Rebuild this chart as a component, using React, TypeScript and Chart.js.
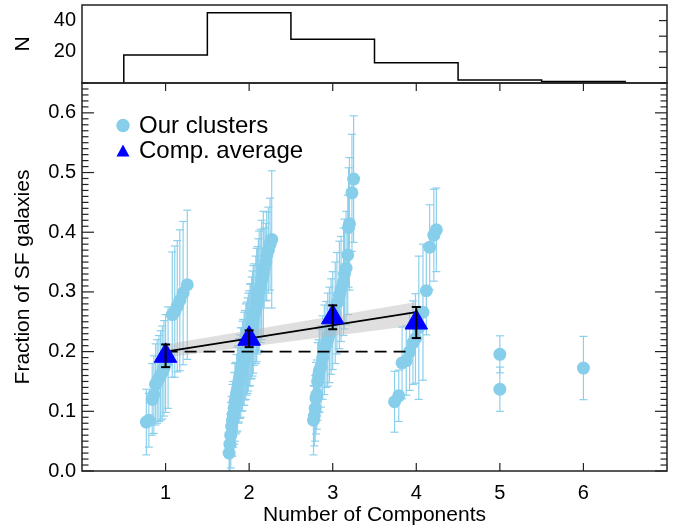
import React, { useEffect, useRef } from "react";
import { Chart, registerables } from "chart.js";

Chart.register(...registerables);

const FONT = '"Liberation Sans", Arial, Helvetica, sans-serif';
const SKY = "#87CEEB";
const BLUE = "#0000FF";

// ---------- top histogram ----------
const histCenters = [1, 2, 3, 4, 5, 6];
const histCounts = [18, 45, 28, 13, 2, 1];
const histTickLabels = [20, 40];
const histTickMarks = [10, 20, 30, 40];

// ---------- main panel axes ----------
const xTickValues = [1, 2, 3, 4, 5, 6];
const yTickValues = [0, 0.1, 0.2, 0.3, 0.4, 0.5, 0.6];

// ---------- our clusters (x = jittered component number) ----------
const x1 = [0.77, 0.8, 0.84, 0.86, 0.88, 0.9, 0.92, 0.94, 0.96, 0.98, 1.0, 1.03, 1.08, 1.11, 1.14, 1.17, 1.21, 1.26];
const y1 = [0.082, 0.085, 0.12, 0.128, 0.145, 0.15, 0.155, 0.16, 0.165, 0.172, 0.18, 0.19, 0.262, 0.267, 0.276, 0.286, 0.298, 0.312];
const e1 = [0.055, 0.045, 0.06, 0.065, 0.068, 0.07, 0.072, 0.075, 0.078, 0.08, 0.082, 0.085, 0.105, 0.11, 0.11, 0.118, 0.12, 0.125];

const x2 = [1.76, 1.77, 1.78, 1.79, 1.8, 1.81, 1.82, 1.83, 1.84, 1.85, 1.86, 1.87, 1.88, 1.89, 1.9, 1.91, 1.92, 1.93, 1.94, 1.95, 1.96, 1.97, 1.98, 1.99, 2.0, 2.01, 2.02, 2.03, 2.04, 2.05, 2.06, 2.08, 2.09, 2.1, 2.11, 2.12, 2.14, 2.15, 2.17, 2.18, 2.2, 2.21, 2.23, 2.25, 2.27];
const y2 = [0.03, 0.045, 0.06, 0.075, 0.085, 0.095, 0.105, 0.115, 0.122, 0.13, 0.137, 0.145, 0.152, 0.158, 0.165, 0.17, 0.176, 0.182, 0.188, 0.194, 0.2, 0.205, 0.21, 0.216, 0.222, 0.228, 0.234, 0.24, 0.247, 0.254, 0.262, 0.27, 0.278, 0.286, 0.294, 0.302, 0.31, 0.32, 0.33, 0.34, 0.35, 0.36, 0.37, 0.38, 0.388];
const e2 = [0.045, 0.05, 0.055, 0.05, 0.06, 0.055, 0.06, 0.065, 0.06, 0.065, 0.07, 0.065, 0.07, 0.07, 0.075, 0.07, 0.075, 0.072, 0.078, 0.075, 0.08, 0.078, 0.08, 0.082, 0.08, 0.085, 0.08, 0.085, 0.088, 0.09, 0.085, 0.09, 0.095, 0.09, 0.095, 0.1, 0.095, 0.1, 0.105, 0.067, 0.065, 0.074, 0.072, 0.077, 0.115];

const x3 = [2.77, 2.78, 2.79, 2.8, 2.81, 2.82, 2.83, 2.84, 2.86, 2.88, 2.9, 2.92, 2.94, 2.96, 2.98, 3.0, 3.03, 3.05, 3.08, 3.1, 3.13, 3.14, 3.16, 3.18, 3.19, 3.2, 3.23, 3.25];
const y3 = [0.085, 0.092, 0.105, 0.122, 0.128, 0.15, 0.16, 0.168, 0.175, 0.19, 0.203, 0.212, 0.22, 0.228, 0.242, 0.252, 0.265, 0.281, 0.295, 0.305, 0.317, 0.33, 0.34, 0.362, 0.408, 0.414, 0.466, 0.489];
const e3 = [0.058, 0.05, 0.055, 0.06, 0.058, 0.065, 0.06, 0.07, 0.068, 0.07, 0.075, 0.072, 0.078, 0.08, 0.08, 0.082, 0.085, 0.085, 0.09, 0.088, 0.09, 0.092, 0.095, 0.1, 0.1, 0.111, 0.098, 0.106];

const x4 = [3.74, 3.79, 3.83, 3.88, 3.92, 3.96, 3.99, 4.03, 4.08, 4.12, 4.16, 4.21, 4.24];
const y4 = [0.116, 0.126, 0.181, 0.185, 0.2, 0.215, 0.222, 0.24, 0.266, 0.302, 0.375, 0.395, 0.404];
const e4 = [0.051, 0.043, 0.06, 0.058, 0.065, 0.07, 0.075, 0.12, 0.114, 0.074, 0.071, 0.077, 0.07];

const x5 = [5, 5];
const y5 = [0.1955, 0.137];
const e5 = [0.031, 0.037];

const x6 = [6];
const y6 = [0.1725];
const e6 = [0.053];

// ---------- component averages ----------
const avgX = [1, 2, 3, 4];
const avgY = [0.193, 0.2215, 0.2575, 0.2487];
const avgErr = [0.019, 0.014, 0.02, 0.026];

// ---------- linear fit, its band, and the constant reference ----------
const fitX = [1, 4];
const fitY = [0.2, 0.266];
const bandUpper = [0.212, 0.283];
const bandLower = [0.19, 0.244];
const refX = [1, 3.9];
const refY = [0.2, 0.2];

const clusterX = [...x1, ...x2, ...x3, ...x4, ...x5, ...x6];
const clusterY = [...y1, ...y2, ...y3, ...y4, ...y5, ...y6];
const clusterE = [...e1, ...e2, ...e3, ...e4, ...e5, ...e6];

const pts = (xs: number[], ys: number[]) => xs.map((x, i) => ({ x, y: ys[i] }));

function seg(ctx: CanvasRenderingContext2D, a: number, b: number, c: number, d: number) {
  ctx.beginPath();
  ctx.moveTo(a, b);
  ctx.lineTo(c, d);
  ctx.stroke();
}

export default function App() {
  const topRef = useRef<HTMLCanvasElement>(null);
  const botRef = useRef<HTMLCanvasElement>(null);

  useEffect(() => {
    Chart.defaults.font.family = FONT;
    Chart.defaults.color = "#000";

    // histogram stepped outline
    const histPts: { x: number; y: number }[] = [];
    histCenters.forEach((c, i) => {
      histPts.push({ x: c - 0.5, y: i === 0 ? 0 : histCounts[i - 1] });
      histPts.push({ x: c - 0.5, y: histCounts[i] });
      histPts.push({ x: c + 0.5, y: histCounts[i] });
    });
    histPts.push({ x: histCenters[histCenters.length - 1] + 0.5, y: 0 });

    const topFrame = {
      id: "topFrame",
      afterDraw(chart: any) {
        const { ctx, chartArea: a, scales } = chart;
        ctx.save();
        ctx.strokeStyle = "#222";
        ctx.lineWidth = 1.5;
        ctx.strokeRect(a.left, a.top, a.right - a.left, a.bottom - a.top);
        ctx.lineWidth = 1.2;
        for (const v of histTickMarks) {
          const py = scales.y.getPixelForValue(v);
          seg(ctx, a.right, py, a.right - 8, py);
        }
        ctx.restore();
      },
    };

    const top = new Chart(topRef.current!, {
      type: "line",
      data: {
        datasets: [
          {
            data: histPts,
            borderColor: "#000",
            borderWidth: 1.5,
            pointRadius: 0,
            tension: 0,
          },
        ],
      },
      options: {
        responsive: false,
        animation: false,
        devicePixelRatio: 1,
        layout: { padding: { left: 8, right: 18, top: 5, bottom: 5 } },
        plugins: { legend: { display: false }, tooltip: { enabled: false } },
        scales: {
          x: { type: "linear", min: 0, max: 7, display: false },
          y: {
            type: "linear",
            min: 0,
            max: 50,
            afterBuildTicks: (s: any) => {
              s.ticks = histTickLabels.map((v) => ({ value: v }));
            },
            afterFit: (s: any) => {
              s.width = 74;
              s.paddingTop = 0;
              s.paddingBottom = 0;
            },
            grid: { display: false, drawTicks: false },
            border: { display: false },
            ticks: { font: { size: 20 }, color: "#000", padding: 6 },
            title: { display: true, text: "N", font: { size: 21 }, color: "#000", padding: { top: 3, bottom: 0 } },
          },
        },
      },
      plugins: [topFrame],
    } as any);

    const errBars = {
      id: "errBars",
      beforeDatasetsDraw(chart: any) {
        const { ctx, chartArea: a, scales } = chart;
        ctx.save();
        ctx.beginPath();
        ctx.rect(a.left, a.top, a.right - a.left, a.bottom - a.top);
        ctx.clip();
        ctx.strokeStyle = "rgba(135,206,235,0.95)";
        ctx.lineWidth = 1.2;
        clusterX.forEach((xv, i) => {
          const px = scales.x.getPixelForValue(xv);
          const pt = scales.y.getPixelForValue(clusterY[i] + clusterE[i]);
          const pb = scales.y.getPixelForValue(clusterY[i] - clusterE[i]);
          seg(ctx, px, pt, px, pb);
          seg(ctx, px - 4, pt, px + 4, pt);
          seg(ctx, px - 4, pb, px + 4, pb);
        });
        ctx.restore();
      },
      afterDatasetsDraw(chart: any) {
        const { ctx, scales } = chart;
        ctx.save();
        ctx.strokeStyle = "#000";
        ctx.lineWidth = 2;
        avgX.forEach((xv, i) => {
          const px = scales.x.getPixelForValue(xv);
          const pt = scales.y.getPixelForValue(avgY[i] + avgErr[i]);
          const pb = scales.y.getPixelForValue(avgY[i] - avgErr[i]);
          seg(ctx, px, pt, px, pb);
          seg(ctx, px - 4.5, pt, px + 4.5, pt);
          seg(ctx, px - 4.5, pb, px + 4.5, pb);
        });
        ctx.restore();
      },
      afterDraw(chart: any) {
        const { ctx, chartArea: a, scales } = chart;
        ctx.save();
        ctx.strokeStyle = "#222";
        ctx.lineWidth = 1.5;
        ctx.strokeRect(a.left, a.top, a.right - a.left, a.bottom - a.top);
        ctx.lineWidth = 1.2;
        for (const v of xTickValues) {
          const px = scales.x.getPixelForValue(v);
          seg(ctx, px, a.bottom, px, a.bottom - 8);
          seg(ctx, px, a.top, px, a.top + 8);
        }
        for (let k = 0; k <= 65; k++) {
          const py = scales.y.getPixelForValue(k / 100);
          const len = k % 10 === 0 ? 12 : 6.5;
          seg(ctx, a.left, py, a.left + len, py);
          seg(ctx, a.right, py, a.right - len, py);
        }
        // legend
        const lx = a.left + 41;
        const ly = a.top + 42;
        ctx.fillStyle = SKY;
        ctx.beginPath();
        ctx.arc(lx, ly + 0.5, 6.7, 0, Math.PI * 2);
        ctx.fill();
        ctx.fillStyle = BLUE;
        ctx.beginPath();
        ctx.moveTo(lx, ly + 19.5);
        ctx.lineTo(lx - 6.5, ly + 31.5);
        ctx.lineTo(lx + 6.5, ly + 31.5);
        ctx.closePath();
        ctx.fill();
        ctx.fillStyle = "#000";
        ctx.font = `24px ${FONT}`;
        ctx.textBaseline = "alphabetic";
        ctx.textAlign = "left";
        ctx.fillText("Our clusters", lx + 16, ly + 7.5);
        ctx.fillText("Comp. average", lx + 16, ly + 32.5);
        ctx.restore();
      },
    };

    const bot = new Chart(botRef.current!, {
      type: "scatter",
      data: {
        datasets: [
          {
            label: "Comp. average",
            data: pts(avgX, avgY),
            pointStyle: "triangle",
            pointRadius: 13,
            backgroundColor: BLUE,
            borderColor: BLUE,
            borderWidth: 1,
            order: 0,
          },
          {
            type: "line",
            data: pts(fitX, fitY),
            borderColor: "#000",
            borderWidth: 1.8,
            pointRadius: 0,
            order: 1,
          },
          {
            type: "line",
            data: pts(refX, refY),
            borderColor: "#000",
            borderWidth: 1.8,
            borderDash: [12, 7],
            pointRadius: 0,
            order: 2,
          },
          {
            type: "line",
            data: pts(fitX, bandUpper),
            borderColor: "rgba(0,0,0,0)",
            backgroundColor: "rgba(185,185,185,0.45)",
            fill: "+1",
            pointRadius: 0,
            order: 3,
          },
          {
            type: "line",
            data: pts(fitX, bandLower),
            borderColor: "rgba(0,0,0,0)",
            pointRadius: 0,
            fill: false,
            order: 4,
          },
          {
            label: "Our clusters",
            data: pts(clusterX, clusterY),
            pointRadius: 6.5,
            backgroundColor: SKY,
            borderColor: SKY,
            borderWidth: 0,
            order: 5,
          },
        ],
      },
      options: {
        responsive: false,
        animation: false,
        devicePixelRatio: 1,
        layout: { padding: { left: 8, right: 18, top: 83, bottom: 0 } },
        plugins: { legend: { display: false }, tooltip: { enabled: false } },
        scales: {
          x: {
            type: "linear",
            min: 0,
            max: 7,
            afterBuildTicks: (s: any) => {
              s.ticks = xTickValues.map((v) => ({ value: v }));
            },
            afterFit: (s: any) => {
              s.height = 58;
            },
            grid: { display: false, drawTicks: false },
            border: { display: false },
            ticks: { font: { size: 20 }, color: "#000", padding: 10, maxRotation: 0 },
            title: {
              display: true,
              text: "Number of Components",
              font: { size: 21 },
              color: "#000",
              padding: { top: 0, bottom: 1 },
            },
          },
          y: {
            type: "linear",
            min: 0,
            max: 0.65,
            afterBuildTicks: (s: any) => {
              s.ticks = yTickValues.map((v) => ({ value: v }));
            },
            afterFit: (s: any) => {
              s.width = 74;
            },
            grid: { display: false, drawTicks: false },
            border: { display: false },
            ticks: {
              font: { size: 20 },
              color: "#000",
              padding: 6,
              callback: (v: any) => Number(v).toFixed(1),
            },
            title: {
              display: true,
              text: "Fraction of SF galaxies",
              font: { size: 21 },
              color: "#000",
              padding: { top: 3, bottom: 0 },
            },
          },
        },
      },
      plugins: [errBars],
    } as any);

    return () => {
      top.destroy();
      bot.destroy();
    };
  }, []);

  return (
    <div style={{ position: "fixed", left: 0, top: 0, width: 685, height: 529, background: "#fff" }}>
      <canvas ref={botRef} width={685} height={529} style={{ position: "absolute", left: 0, top: 0 }} />
      <canvas ref={topRef} width={685} height={88} style={{ position: "absolute", left: 0, top: 0 }} />
    </div>
  );
}
